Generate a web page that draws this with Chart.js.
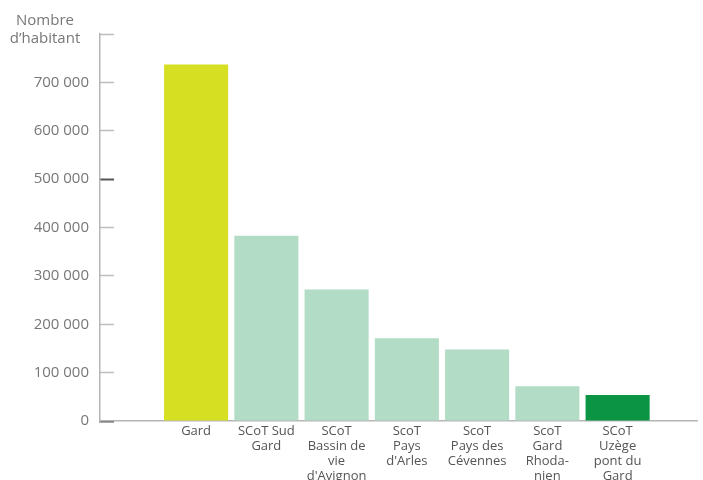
<!DOCTYPE html>
<html>
<head>
<meta charset="utf-8">
<script src="https://cdn.jsdelivr.net/npm/chart.js@4"></script>
<style>
  html, body { margin: 0; padding: 0; background: #fff; }
  #wrap { position: relative; width: 703px; height: 480px; }
</style>
</head>
<body>
<div id="wrap"><canvas id="c" width="703" height="480"></canvas></div>
<script>
const categories = [
  'Gard',
  ['SCoT Sud', 'Gard'],
  ['SCoT', 'Bassin de', 'vie', "d'Avignon"],
  ['ScoT', 'Pays', "d'Arles"],
  ['ScoT', 'Pays des', 'Cévennes'],
  ['ScoT', 'Gard', 'Rhoda-', 'nien'],
  ['SCoT', 'Uzège', 'pont du', 'Gard']
];
const population = [737000, 383000, 272000, 171000, 148000, 72000, 54000];
const barColors = ['#d6df21', '#b2dcc5', '#b2dcc5', '#b2dcc5', '#b2dcc5', '#b2dcc5', '#0b9444'];
const yTickValues = [0, 100000, 200000, 300000, 400000, 500000, 600000, 700000, 800000];
const yTickLabels = ['0', '100 000', '200 000', '300 000', '400 000', '500 000', '600 000', '700 000', ''];
const yTitle = ['Nombre', 'd’habitant'];

const titlePlugin = {
  id: 'yTitle',
  afterDraw(chart) {
    const ctx = chart.ctx;
    ctx.save();
    ctx.font = '15px "Open Sans"';
    ctx.fillStyle = '#777';
    ctx.textAlign = 'center';
    ctx.textBaseline = 'middle';
    ctx.fillText(yTitle[0], 45, 21);
    ctx.fillText(yTitle[1], 45, 39);
    ctx.restore();
  }
};

new Chart(document.getElementById('c'), {
  type: 'bar',
  data: {
    datasets: [{
      data: population.map((v, i) => ({ x: i + 1, y: v })),
      backgroundColor: barColors,
      borderWidth: 0,
      categoryPercentage: 1,
      barPercentage: 0.912
    }]
  },
  options: {
    responsive: false,
    animation: false,
    layout: { padding: { top: 32, right: 6, left: 0, bottom: 0 } },
    plugins: { legend: { display: false }, tooltip: { enabled: false } },
    scales: {
      x: {
        type: 'linear',
        offset: false,
        min: -0.368,
        max: 8.13,
        afterBuildTicks(scale) {
          scale.ticks = categories.map((c, i) => ({ value: i + 1 }));
        },
        afterFit(scale) { scale.height = 59; },
        grid: { drawOnChartArea: false, drawTicks: false, color: 'rgba(0,0,0,0)' },
        border: { display: true, color: '#b5b5b5', width: 1.5 },
        ticks: {
          autoSkip: false,
          maxRotation: 0,
          padding: 3,
          color: '#555',
          font: { family: '"Open Sans"', size: 13, lineHeight: 1.15 },
          callback: (v) => categories[Math.round(v) - 1]
        }
      },
      y: {
        min: 0,
        max: 800000,
        afterBuildTicks(scale) {
          scale.ticks = yTickValues.map(v => ({ value: v }));
        },
        afterFit(scale) { scale.width = 100; },
        grid: {
          drawOnChartArea: false,
          drawTicks: true,
          tickLength: -14,
          tickColor: (ctx) => (ctx.tick && (ctx.tick.value === 500000 || ctx.tick.value === 0)) ? '#555' : '#bdbdbd',
          tickWidth: (ctx) => (ctx.tick && (ctx.tick.value === 500000 || ctx.tick.value === 0)) ? 2 : 1.5
        },
        border: { display: true, color: '#b5b5b5', width: 1.5 },
        ticks: {
          padding: 25,
          color: '#777',
          font: { family: '"Open Sans"', size: 15 },
          callback: (v) => yTickLabels[yTickValues.indexOf(v)]
        }
      }
    }
  },
  plugins: [titlePlugin]
});
</script>
</body>
</html>
